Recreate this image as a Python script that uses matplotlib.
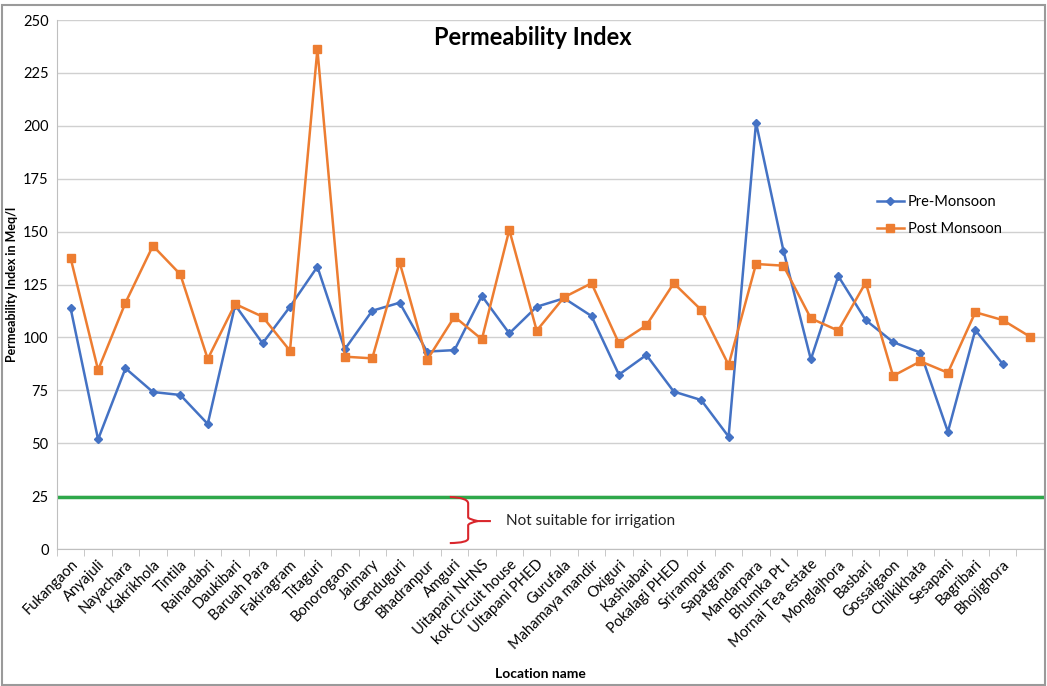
import numpy as np
import matplotlib.pyplot as plt
from matplotlib.path import Path
from matplotlib.patches import PathPatch, Rectangle

# ================================
# DADOS
# ================================
locais = ['Fukangaon', 'Anyajuli', 'Nayachara', 'Kakrikhola', 'Tintila', 'Rainadabri',
          'Daukibari', 'Baruah Para', 'Fakiragram', 'Titaguri', 'Bonorogaon', 'Jaimary',
          'Genduguri', 'Bhadranpur', 'Amguri', 'Uitapani NHNS', 'kok Circuit house',
          'Ultapani PHED', 'Gurufala', 'Mahamaya mandir', 'Oxiguri', 'Kashiabari',
          'Pokalagi PHED', 'Srirampur', 'Sapatgram', 'Mandarpara', 'Bhumka Pt I',
          'Mornai Tea estate', 'Monglajhora', 'Basbari', 'Gossaigaon', 'Chilkikhata',
          'Sesapani', 'Bagribari', 'Bhojighora', '']

pre_monsoon = [113.7, 51.8, 85.4, 74.2, 72.8, 59.1, 115.3, 97.2, 114.5, 133.4,
               94.4, 112.6, 116.4, 93.3, 94.0, 119.6, 101.9, 114.5, 118.5, 110.1,
               82.4, 91.7, 74.4, 70.4, 53.1, 201.5, 141.0, 89.6, 129.0, 108.2,
               97.8, 92.8, 55.4, 103.5, 87.4]

post_monsoon = [137.4, 84.6, 116.4, 143.3, 129.8, 89.8, 115.8, 109.8, 93.7, 236.2,
                90.9, 90.1, 135.5, 89.3, 109.8, 99.1, 150.8, 103.2, 119.0, 125.6,
                97.2, 105.7, 125.6, 113.0, 87.0, 134.7, 133.9, 109.0, 103.2, 125.9,
                81.8, 88.7, 83.3, 111.9, 108.2, 100.3]

LIMITE_IRRIGACAO = 24.5
COR_PRE = '#4472c4'
COR_POS = '#ed7d31'

plt.rcParams['font.family'] = ['Lato', 'DejaVu Sans']

fig = plt.figure(figsize=(10.47, 6.86), dpi=100)
ax = fig.add_axes([0.0544, 0.1997, 0.9426, 0.7711])

x_pre = np.arange(len(pre_monsoon))
x_pos = np.arange(len(post_monsoon))

ax.plot(x_pre, pre_monsoon, color=COR_PRE, linewidth=1.8, marker='D', markersize=4,
        label='Pre-Monsoon')
ax.plot(x_pos, post_monsoon, color=COR_POS, linewidth=1.8, marker='s', markersize=6,
        label='Post Monsoon')

# Linha limite
ax.axhline(LIMITE_IRRIGACAO, color='#2ea84a', linewidth=2.5, zorder=1)

# Chave "}" e texto
verts = [(13.83, 24.6), (14.5, 24.3), (14.5, 21.5),
         (14.5, 15.0), (14.5, 14.2), (14.85, 13.2),
         (15.33, 13.2), (14.85, 13.2),
         (14.5, 12.2), (14.5, 11.2),
         (14.5, 5.0), (14.5, 2.9), (13.83, 2.8)]
codes = [Path.MOVETO, Path.CURVE3, Path.CURVE3,
         Path.LINETO, Path.CURVE3, Path.CURVE3,
         Path.LINETO, Path.MOVETO,
         Path.CURVE3, Path.CURVE3,
         Path.LINETO, Path.CURVE3, Path.CURVE3]
ax.add_patch(PathPatch(Path(verts, codes), facecolor='none', edgecolor='#d9262c',
                       linewidth=1.5, zorder=3))
ax.text(15.88, 13.2, 'Not suitable for irrigation', fontsize=11, va='center', ha='left',
        color='#222222')

# Eixos
ax.set_xlim(-0.5, len(locais) - 0.5)
ax.set_ylim(0, 250)
ax.set_yticks(np.arange(0, 251, 25))
ax.yaxis.grid(True, color='#d0d0d0', linewidth=1)
ax.set_axisbelow(True)

ax.set_xticks(np.arange(len(locais)))
ax.set_xticklabels(locais, rotation=45, ha='right', rotation_mode='anchor', fontsize=10.5)
ax.set_xticks(np.arange(-0.5, len(locais)), minor=True)
ax.tick_params(axis='x', which='major', length=0, pad=6)
ax.tick_params(axis='x', which='minor', length=5, color='#bfbfbf')
ax.tick_params(axis='y', length=0, labelsize=10.5, pad=6)

for lado in ['top', 'right']:
    ax.spines[lado].set_visible(False)
ax.spines['left'].set_color('#bfbfbf')
ax.spines['bottom'].set_color('#bfbfbf')

ax.set_xlabel('Location name', fontsize=10, fontweight='bold')
ax.set_ylabel('Permeability Index in Meq/l', fontsize=9, fontweight='bold')
ax.xaxis.set_label_coords(0.49, -0.225)
ax.yaxis.set_label_coords(-0.039, 0.5)

ax.text(0.482, 0.988, 'Permeability Index', transform=ax.transAxes, fontsize=17,
        fontweight='bold', ha='center', va='top')

ax.legend(loc='upper left', bbox_to_anchor=(0.818, 0.694), frameon=False, fontsize=10.5,
          handlelength=1.8, labelspacing=0.9, handletextpad=0.3)

# Moldura
fig.patches.append(Rectangle((0.002, 0.002), 0.996, 0.99, transform=fig.transFigure,
                             fill=False, edgecolor='#9a9a9a', linewidth=1.5))

plt.savefig('out.png', dpi=100)
